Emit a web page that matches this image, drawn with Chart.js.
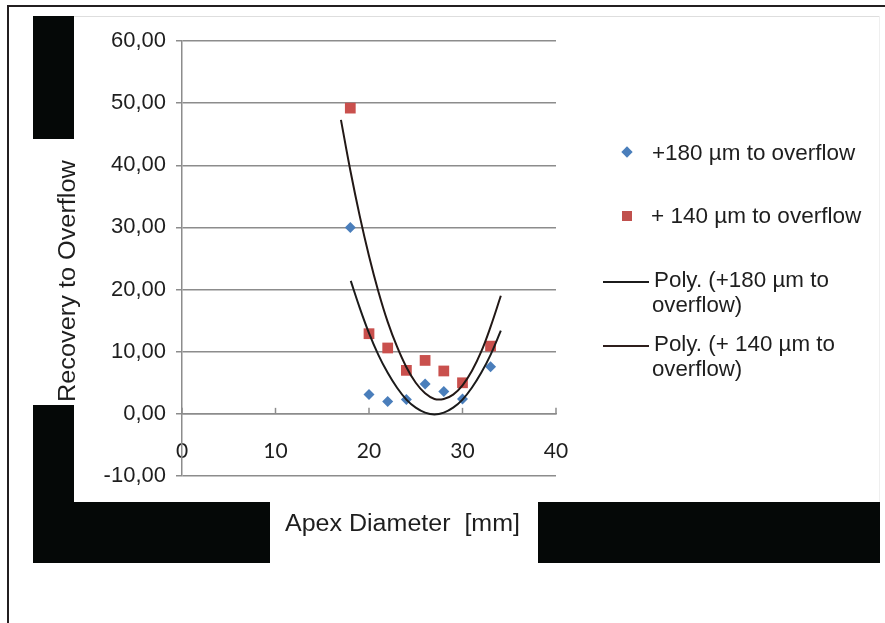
<!DOCTYPE html>
<html>
<head>
<meta charset="utf-8">
<script src="https://cdn.jsdelivr.net/npm/chart.js@4.4.1/dist/chart.umd.min.js"></script>
<style>
  html, body { margin: 0; padding: 0; background: #fff; }
  #page { position: relative; width: 885px; height: 623px; overflow: hidden; background: #fff; }
  .blk { position: absolute; background: #050807; }
  .frame { position: absolute; background: #231f20; }
  .txt { position: absolute; font-family: 'Liberation Sans', Arial, sans-serif; color: #1e1e1e;
         white-space: pre; transform-origin: 0 0; }
  .leg { font-size: 22px; line-height: 25px; }
  .mk { position: absolute; }
  #chartBox { position: absolute; left: 0; top: 0; width: 885px; height: 623px; }
</style>
</head>
<body>
<div id="page">
  <!-- outer frame and the black scan blocks -->
  <div class="frame" style="left:7px;top:5px;width:878px;height:2px"></div>
  <div class="frame" style="left:7px;top:5px;width:2px;height:618px"></div>
  <div style="position:absolute;left:74px;top:16px;width:805px;height:1px;background:#dedede"></div>
  <div style="position:absolute;left:879px;top:16px;width:1px;height:486px;background:#efefef"></div>
  <div class="blk" style="left:33px;top:16px;width:41px;height:123px"></div>
  <div class="blk" style="left:33px;top:405px;width:41px;height:158px"></div>
  <div class="blk" style="left:33px;top:502px;width:237px;height:61px"></div>
  <div class="blk" style="left:538px;top:502px;width:342px;height:61px"></div>

  <div id="chartBox"><canvas id="chart" width="885" height="623"></canvas></div>

  <!-- axis titles -->
  <span class="txt fit" id="yTitle" data-w="242" style="font-size:23px;line-height:24px"></span>
  <span class="txt fit" id="xTitle" data-w="235" style="left:285px;top:510px;font-size:23px;line-height:26px"></span>

  <!-- legend -->
  <div class="mk" style="left:623px;top:148px;width:8px;height:8px;background:#4a7ebb;transform:rotate(45deg)"></div>
  <span class="txt leg fit" id="leg0" data-w="203" style="left:652px;top:140px"></span>
  <div class="mk" style="left:622px;top:211px;width:10px;height:10px;background:#c0504d"></div>
  <span class="txt leg fit" id="leg1" data-w="210" style="left:651px;top:203px"></span>
  <div class="mk" style="left:603px;top:281px;width:46px;height:2px;background:#1b1b1b"></div>
  <span class="txt leg fit" id="leg2a" data-w="175" style="left:654px;top:267px"></span>
  <span class="txt leg fit" id="leg2b" data-w="90" style="left:652px;top:292px"></span>
  <div class="mk" style="left:603px;top:345px;width:46px;height:2px;background:#2e1f1c"></div>
  <span class="txt leg fit" id="leg3a" data-w="181" style="left:654px;top:331px"></span>
  <span class="txt leg fit" id="leg3b" data-w="90" style="left:652px;top:356px"></span>
</div>

<script>
// measured points
const diameters = [18, 20, 22, 24, 26, 28, 30, 33];
const rec180 = [30.0, 3.1, 2.0, 2.3, 4.8, 3.6, 2.4, 7.6];
const rec140 = [49.2, 12.9, 10.6, 7.0, 8.6, 6.9, 5.0, 10.9];

// polynomial trend lines
const fit180X = [18.05, 19, 20, 21, 22, 23, 24, 25, 26, 27, 28, 29, 30, 31, 32, 33, 34.1];
const fit180Y = [21.4, 17.1, 13.0, 9.5, 6.6, 4.2, 2.3, 1.0, 0.2, -0.1, 0.2, 1.0, 2.3, 4.2, 6.6, 9.5, 13.4];
const fit140X = [17, 18, 19, 20, 21, 22, 23, 24, 25, 26, 27, 28, 29, 30, 31, 32, 33, 34.1];
const fit140Y = [47.3, 39.2, 31.9, 25.4, 19.7, 14.8, 10.8, 7.5, 5.0, 3.3, 2.4, 2.4, 3.1, 4.6, 6.9, 10.0, 14.0, 19.0];

const xTicks = [0, 10, 20, 30, 40];
const yTicks = [-10, 0, 10, 20, 30, 40, 50, 60];

const seriesNames = ['+180 µm to overflow', '+ 140 µm to overflow'];
const trendNames = ['Poly. (+180 µm to overflow)', 'Poly. (+ 140 µm to overflow)'];
const xTitle = 'Apex Diameter  [mm]';
const yTitle = 'Recovery to Overflow';

const pts = (xs, ys) => xs.map((x, i) => ({ x: x, y: ys[i] }));
const fmt = v => v.toFixed(2).replace('.', ',');

const GRID = '#8c8c8c';

// little upward tick marks on the x axis (Excel style)
const xTickMarks = {
  id: 'xTickMarks',
  beforeDatasetsDraw(chart) {
    const { ctx, scales: { x, y } } = chart;
    const y0 = y.getPixelForValue(0);
    ctx.save();
    ctx.strokeStyle = GRID;
    ctx.lineWidth = 1.5;
    xTicks.forEach(v => {
      const px = x.getPixelForValue(v);
      ctx.beginPath();
      ctx.moveTo(px, y0);
      ctx.lineTo(px, y0 - 6);
      ctx.stroke();
    });
    ctx.restore();
  }
};

new Chart(document.getElementById('chart').getContext('2d'), {
  type: 'scatter',
  data: {
    datasets: [
      {
        label: trendNames[0],
        type: 'line',
        data: pts(fit180X, fit180Y),
        borderColor: '#1b1b1b',
        borderWidth: 2,
        pointRadius: 0,
        tension: 0.4,
        fill: false,
        order: 0
      },
      {
        label: trendNames[1],
        type: 'line',
        data: pts(fit140X, fit140Y),
        borderColor: '#221816',
        borderWidth: 2,
        pointRadius: 0,
        tension: 0.4,
        fill: false,
        order: 0
      },
      {
        label: seriesNames[0],
        data: pts(diameters, rec180),
        pointStyle: 'rectRot',
        pointRadius: 5.5,
        backgroundColor: '#4a7ebb',
        borderWidth: 0,
        order: 1
      },
      {
        label: seriesNames[1],
        data: pts(diameters, rec140),
        pointStyle: 'rect',
        pointRadius: 7.6,
        backgroundColor: '#c9504d',
        borderWidth: 0,
        order: 1
      }
    ]
  },
  options: {
    responsive: false,
    animation: false,
    layout: { padding: { left: 70, right: 329, top: 41, bottom: 147 } },
    plugins: { legend: { display: false }, tooltip: { enabled: false } },
    scales: {
      x: {
        type: 'linear',
        position: { y: 0 },
        min: 0,
        max: 40,
        afterBuildTicks: s => { s.ticks = xTicks.map(v => ({ value: v })); },
        ticks: { padding: 17, color: '#1e1e1e', font: { family: 'Lato', size: 21 } },
        grid: { display: false },
        border: { color: GRID, width: 1.5 }
      },
      y: {
        min: -10,
        max: 60,
        afterBuildTicks: s => { s.ticks = yTicks.map(v => ({ value: v })); },
        afterFit: s => { s.width = 112; },
        ticks: { padding: 10, color: '#1e1e1e', font: { family: 'Liberation Sans', size: 22 }, callback: v => fmt(v) },
        grid: { color: GRID, lineWidth: 1.5, tickLength: 6 },
        border: { color: GRID, width: 1.5 }
      }
    }
  },
  plugins: [xTickMarks]
});

// texts
document.getElementById('yTitle').textContent = yTitle;
document.getElementById('xTitle').textContent = xTitle;
document.getElementById('leg0').textContent = seriesNames[0];
document.getElementById('leg1').textContent = seriesNames[1];
document.getElementById('leg2a').textContent = 'Poly. (+180 µm to';
document.getElementById('leg2b').textContent = 'overflow)';
document.getElementById('leg3a').textContent = 'Poly. (+ 140 µm to';
document.getElementById('leg3b').textContent = 'overflow)';

// stretch texts to the widths seen in the scan
document.querySelectorAll('.fit').forEach(el => {
  const w = el.offsetWidth;
  const k = (+el.dataset.w) / w;
  if (el.id === 'yTitle') {
    // rotated: centre on x=67, y=281
    el.style.left = (67 - 12) + 'px';
    el.style.top = (281 + 242 / 2) + 'px';
    el.style.transform = 'rotate(-90deg) scaleX(' + k + ')';
  } else {
    el.style.transform = 'scaleX(' + k + ')';
  }
});
</script>
</body>
</html>
